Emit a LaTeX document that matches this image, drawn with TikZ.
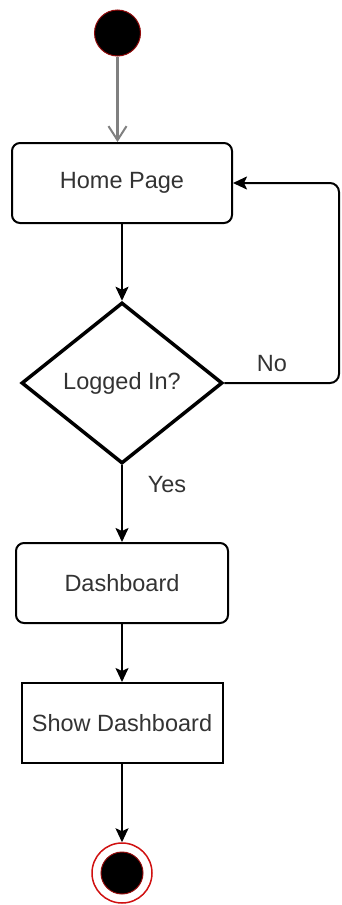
\documentclass[tikz,border=0pt]{standalone}
\usepackage{fontspec}
\setmainfont{Liberation Sans}
\usetikzlibrary{shapes.geometric,arrows.meta}
\definecolor{txt}{HTML}{333333}
\definecolor{ring}{HTML}{D01010}
\tikzset{
  lbl/.style={font=\fontsize{23.5}{27}\selectfont, text=txt},
  roundbox/.style={draw=black, line width=2pt, rounded corners=8pt, minimum height=80pt, inner sep=0pt, lbl},
  plainbox/.style={draw=black, line width=2pt, minimum height=80pt, inner sep=0pt, lbl},
  decision/.style={diamond, draw=black, line width=3.5pt, inner sep=0pt, minimum width=201pt, minimum height=161pt, lbl},
  arr/.style={draw=black, line width=2pt, -{Stealth[length=14pt,width=13pt,inset=3pt]}},
  openarr/.style={draw=gray, line width=2.5pt, -{Straight Barb[length=14pt,width=18pt,line width=2pt]}}
}
\begin{document}
\begin{tikzpicture}[x=1pt,y=-1pt]
\useasboundingbox[fill=white] (0,0) rectangle (341,905);
\node[circle, fill=black, draw=ring!70!black, line width=1pt, minimum size=46pt, inner sep=0pt] (start) at (117.5,33) {};
\node[roundbox, minimum width=220pt] (home) at (122,183) {Home Page};
\node[decision] (dec) at (122,383) {Logged In?};
\node[roundbox, minimum width=212pt] (dash) at (122,583) {Dashboard};
\node[plainbox, minimum width=201pt] (show) at (122,723) {Show Dashboard};
\node[circle, draw=ring, line width=1.5pt, fill=white, minimum size=60pt, inner sep=0pt] (end) at (122,873) {};
\node[circle, fill=black, draw=ring!70!black, line width=1pt, minimum size=42pt, inner sep=0pt] (endin) at (end.center) {};
\coordinate (cr1) at (339,383);
\coordinate (cr2) at (339,183);
\node[lbl] (no) at (272,364) {No};
\node[lbl] (yes) at (167,485) {Yes};
\draw[openarr] (start.south) -- (start.south |- home.north);
\draw[arr] (home.south) -- (dec.north);
\draw[arr, rounded corners=9pt] (dec.east) -- (cr1) -- (cr2) -- (home.east);
\draw[arr] (dec.south) -- (dash.north);
\draw[arr] (dash.south) -- (show.north);
\draw[arr] (show.south) -- (end.north);
\end{tikzpicture}
\end{document}
